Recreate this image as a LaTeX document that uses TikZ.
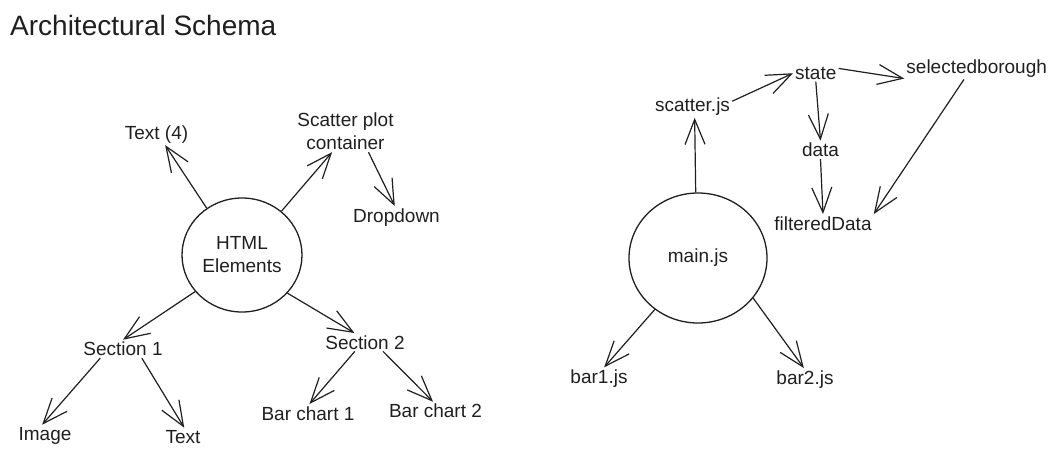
\documentclass[tikz,border=0pt]{standalone}
\usepackage{fontspec}
\setmainfont{Liberation Sans}
\usetikzlibrary{arrows.meta,shapes.geometric}
\begin{document}
\begin{tikzpicture}[x=1pt,y=-1pt,
  lbl/.style={inner sep=2pt, font=\fontsize{19}{23}\selectfont, text=black!88},
  blob/.style={draw=black!88, ellipse, line width=1.3pt, inner sep=0pt,
    font=\fontsize{19}{23}\selectfont, text=black!88, align=center},
  arr/.style={draw=black!88, line width=1.2pt,
    -{Straight Barb[length=25pt,width=20pt,line width=1.2pt]}}
]
\useasboundingbox (0,0) rectangle (1061,459);

% title
\node[anchor=base west, inner sep=0pt, font=\fontsize{28}{32}\selectfont, text=black!88] (title) at (10,35) {Architectural Schema};

% left tree
\node[blob, minimum width=120pt, minimum height=114pt] (html) at (242,255) {HTML\\Elements};
\node[lbl, anchor=base] (t4) at (156.5,139) {Text (4)};
\node[lbl, align=center] (spc) at (345.5,131.5) {Scatter plot\\container};
\node[lbl, anchor=base] (dd) at (396.5,222) {Dropdown};
\node[lbl, anchor=base] (sec1) at (123,355.7) {Section 1};
\node[lbl, anchor=base] (sec2) at (365,349) {Section 2};
\node[lbl, anchor=base] (img) at (45,440) {Image};
\node[lbl, anchor=base] (txt) at (183,443) {Text};
\node[lbl, anchor=base] (bc1) at (308,420) {Bar chart 1};
\node[lbl, anchor=base] (bc2) at (435.5,417.7) {Bar chart 2};

% right tree
\node[blob, minimum width=138pt, minimum height=130pt] (main) at (698,258) {main.js};
\node[lbl, anchor=base] (scj) at (692.5,111.7) {scatter.js};
\node[lbl, anchor=base] (st) at (815.8,79.3) {state};
\node[lbl, anchor=base] (sb) at (976.7,73.3) {selectedborough};
\node[lbl, anchor=base] (dt) at (820.5,156.7) {data};
\node[lbl, anchor=base] (fd) at (823,230) {filteredData};
\node[lbl, anchor=base] (b1) at (599,383.3) {bar1.js};
\node[lbl, anchor=base] (b2) at (805,384) {bar2.js};

% connectors left
\draw[arr] (html.127.5) -- (t4.-52);
\draw[arr] (html.48.9) -- (spc.-123.4);
\draw[arr] (spc.-42.3) -- (dd.99.5);
\draw[arr] (html.218.6) -- (sec1.north);
\draw[arr] (html.-40.6) -- (sec2.139);
\draw[arr] (sec1.-158) -- (img.105);
\draw[arr] (sec1.-26.6) -- (txt.82);
\draw[arr] (sec2.-138) -- (bc1.81);
\draw[arr] (sec2.-27.5) -- (bc2.105);

% connectors right
\draw[arr] (main.92.6) -- (scj.-79);
\draw[arr] (scj.8.3) -- (st.west);
\draw[arr] (st.12) -- (sb.188);
\draw[arr] (st.south) -- (dt.north);
\draw[arr] (dt.south) -- (fd.north);
\draw[arr] (sb.-139) -- (fd.north east);
\draw[arr] (main.-130.9) -- (b1.65);
\draw[arr] (main.-36) -- (b2.96);
\end{tikzpicture}
\end{document}
